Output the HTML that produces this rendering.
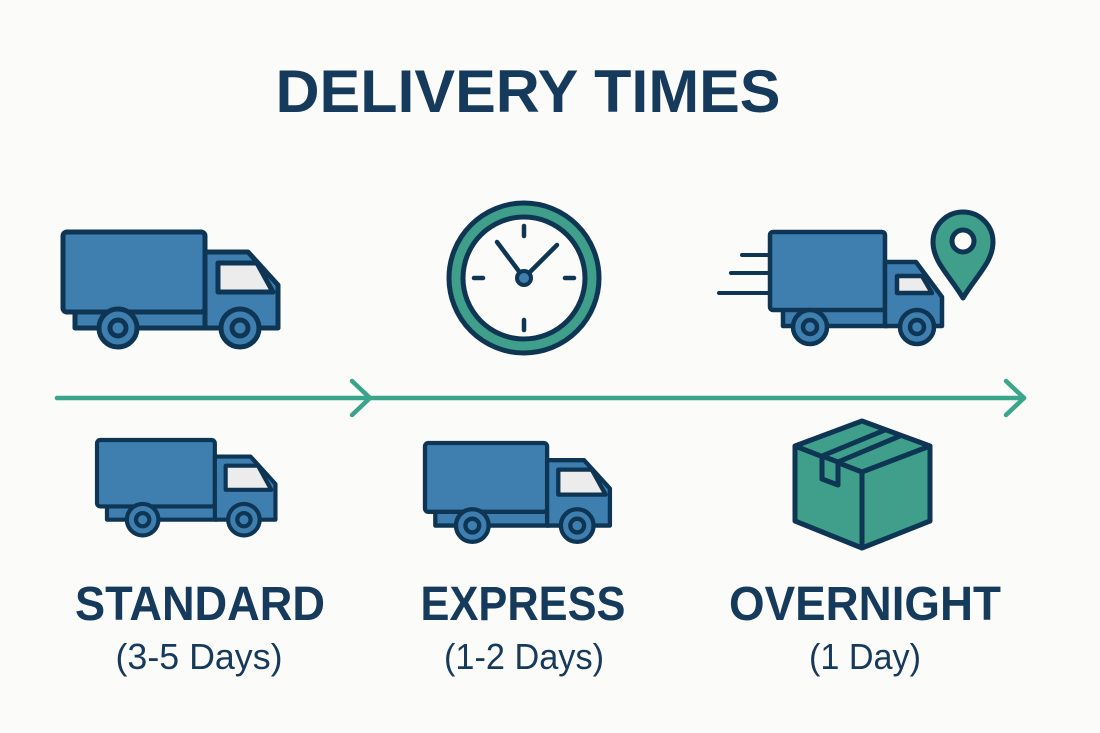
<!DOCTYPE html>
<html><head><meta charset="utf-8"><style>
html,body{margin:0;padding:0;background:#fbfbf9;}
svg{display:block;}
text{font-family:"Liberation Sans",sans-serif;fill:#163a5c;}
</style></head><body>
<svg width="1100" height="733" viewBox="0 0 1100 733" xmlns="http://www.w3.org/2000/svg">
<defs>
<g id="truck" stroke="#0e3553" stroke-width="5" stroke-linejoin="round">
  <rect x="12" y="78" width="132" height="18" fill="#3f7fb0"/>
  <rect x="0" y="0" width="142" height="80" rx="4" fill="#3f7fb0"/>
  <path d="M142 20 H185 L215 53 V96 H142 Z" fill="#3f7fb0"/>
  <path d="M155 31 H194 L210 60 H155 Z" fill="#ececec"/>
  <circle cx="55" cy="96" r="19" fill="#3f7fb0"/>
  <circle cx="55" cy="96" r="8" fill="#3f7fb0"/>
  <circle cx="177" cy="96" r="19" fill="#3f7fb0"/>
  <circle cx="177" cy="96" r="8" fill="#3f7fb0"/>
</g>
</defs>

<text x="528" y="112" font-size="60" font-weight="bold" text-anchor="middle" textLength="505" lengthAdjust="spacingAndGlyphs">DELIVERY TIMES</text>

<use href="#truck" transform="translate(63,232)"/>
<use href="#truck" transform="translate(97,440) scale(0.83)"/>
<use href="#truck" transform="translate(425,443) scale(0.86)"/>

<!-- fast truck -->
<g stroke="#0e3553" stroke-width="4" stroke-linecap="round">
  <line x1="742" y1="255" x2="770" y2="255"/>
  <line x1="731" y1="273" x2="770" y2="273"/>
  <line x1="719" y1="293" x2="770" y2="293"/>
</g>
<g stroke="#0e3553" stroke-width="4.5" stroke-linejoin="round" fill="#3f7fb0">
  <rect x="783" y="308" width="104" height="18"/>
  <rect x="770" y="232" width="115" height="78" rx="3"/>
  <path d="M885 262 H916 L942 297 V326 H885 Z"/>
  <path d="M897 276 H922 L932 293 H897 Z" fill="#ececec"/>
  <circle cx="810" cy="327" r="17"/>
  <circle cx="810" cy="327" r="7"/>
  <circle cx="917" cy="327" r="17"/>
  <circle cx="917" cy="327" r="7"/>
</g>

<!-- pin -->
<path d="M963 298 C950 276 933 262 933 242 A30 30 0 0 1 993 242 C993 262 976 276 963 298 Z" fill="#3f9f8a" stroke="#0e3553" stroke-width="5" stroke-linejoin="round"/>
<circle cx="963" cy="241" r="11" fill="#fbfbf9" stroke="#0e3553" stroke-width="5"/>

<!-- clock -->
<circle cx="524" cy="278" r="75" fill="#3f9f8a" stroke="#0e3553" stroke-width="5"/>
<circle cx="524" cy="278" r="61" fill="#fbfbf9" stroke="#0e3553" stroke-width="5"/>
<g stroke="#0e3553" stroke-width="4.5" stroke-linecap="round">
  <line x1="524" y1="226" x2="524" y2="236"/>
  <line x1="524" y1="320" x2="524" y2="330"/>
  <line x1="474" y1="278" x2="483" y2="278"/>
  <line x1="565" y1="278" x2="574" y2="278"/>
  <line x1="524" y1="278" x2="497" y2="242"/>
  <line x1="524" y1="278" x2="557" y2="245"/>
</g>
<circle cx="524" cy="278" r="7" fill="#3f7fb0" stroke="#0e3553" stroke-width="4"/>

<!-- arrow line -->
<g stroke="#3aa58a" stroke-width="4.5" fill="none" stroke-linecap="round" stroke-linejoin="round">
  <line x1="57" y1="398" x2="1024" y2="398"/>
  <polyline points="352,381 370,398 352,415"/>
  <polyline points="1006,381 1024,398 1006,415"/>
</g>

<!-- box -->
<g stroke="#0e3553" stroke-width="5" stroke-linejoin="round" fill="#3f9f8a">
  <path d="M862 421 L930 446 L930 521 L862 548 L795 521 L795 446 Z"/>
  <path d="M795 446 L862 472 L930 446"/>
  <line x1="862" y1="472" x2="862" y2="548"/>
  <path d="M822 456 L822 479 L838 485 L838 462 Z"/>
  <path d="M822 456 L885 430 M838 462 L900 436" fill="none"/>
</g>

<text x="200" y="620" font-size="48" font-weight="bold" text-anchor="middle" textLength="250" lengthAdjust="spacingAndGlyphs">STANDARD</text>
<text x="199" y="669" font-size="36" text-anchor="middle" textLength="167" lengthAdjust="spacingAndGlyphs">(3-5 Days)</text>
<text x="523" y="620" font-size="48" font-weight="bold" text-anchor="middle" textLength="205" lengthAdjust="spacingAndGlyphs">EXPRESS</text>
<text x="524" y="669" font-size="36" text-anchor="middle" textLength="160" lengthAdjust="spacingAndGlyphs">(1-2 Days)</text>
<text x="865" y="620" font-size="48" font-weight="bold" text-anchor="middle" textLength="272" lengthAdjust="spacingAndGlyphs">OVERNIGHT</text>
<text x="865" y="669" font-size="36" text-anchor="middle" textLength="112" lengthAdjust="spacingAndGlyphs">(1 Day)</text>
</svg>
</body></html>
